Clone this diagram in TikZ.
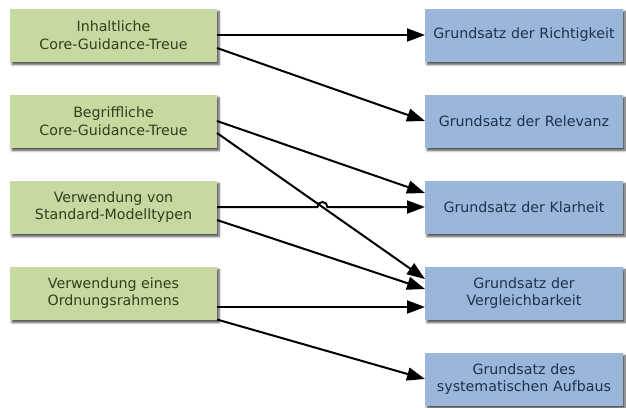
\documentclass[tikz,border=0pt]{standalone}
\usepackage{fontspec}
\setmainfont{DejaVu Sans}
\usetikzlibrary{arrows.meta,shadows.blur,intersections}
\definecolor{kritfill}{RGB}{197,217,160}
\definecolor{krittext}{RGB}{48,64,28}
\definecolor{gsfill}{RGB}{154,183,219}
\definecolor{gstext}{RGB}{30,48,80}
\tikzset{
  krit/.style={fill=kritfill,text=krittext,minimum width=207pt,minimum height=53pt,
    text width=200pt,align=center,inner sep=0pt,outer sep=0pt,
    blur shadow={shadow xshift=2pt,shadow yshift=-3pt,shadow blur steps=6,shadow opacity=70}},
  gs/.style={fill=gsfill,text=gstext,minimum width=198pt,minimum height=53pt,
    text width=192pt,align=center,inner sep=0pt,outer sep=0pt,
    blur shadow={shadow xshift=2pt,shadow yshift=-3pt,shadow blur steps=6,shadow opacity=70}},
  pfeil/.style={->,line width=2pt}
}
\begin{document}
\begin{tikzpicture}[x=1pt,y=-1pt,>={Triangle[length=18pt,width=13pt]},
    font=\fontsize{14.2}{17.5}\selectfont]
  \useasboundingbox (0,0) rectangle (626,407);
  \node[krit] (inh)  at (113.5,35)  {Inhaltliche\\Core-Guidance-Treue};
  \node[krit] (begr) at (113.5,121) {Begriffliche\\Core-Guidance-Treue};
  \node[krit] (std)  at (113.5,207) {Verwendung von\\Standard-Modelltypen};
  \node[krit] (ord)  at (113.5,293) {Verwendung eines\\Ordnungsrahmens};

  \node[gs] (richt) at (524,35)  {Grundsatz der Richtigkeit};
  \node[gs] (relev) at (524,121) {Grundsatz der Relevanz};
  \node[gs] (klar)  at (524,207) {Grundsatz der Klarheit};
  \node[gs] (vgl)   at (524,293) {Grundsatz der\\Vergleichbarkeit};
  \node[gs] (aufb)  at (524,379) {Grundsatz des\\systematischen Aufbaus};

  \draw[pfeil] (inh.east) -- (richt.west);
  \draw[pfeil] ([yshift=-13pt]inh.east) -- (relev.west);
  \draw[pfeil] (begr.east) -- ([yshift=14pt]klar.west);
  \draw[pfeil,name path=quer] ([yshift=-12pt]begr.east) -- ([yshift=14pt]vgl.west);
  \path[name path=gerade] (std.east) -- (klar.west);
  \path[name intersections={of=quer and gerade,by=hop}];
  \draw[pfeil] (std.east) -- ([xshift=-5pt]hop) arc[start angle=180,end angle=0,radius=5pt] -- (klar.west);
  \draw[pfeil] ([yshift=-13pt]std.east) -- ([yshift=4pt]vgl.west);
  \draw[pfeil] ([yshift=-14pt]ord.east) -- ([yshift=-14pt]vgl.west);
  \draw[pfeil] (ord.south east) -- (aufb.west);
\end{tikzpicture}
\end{document}
